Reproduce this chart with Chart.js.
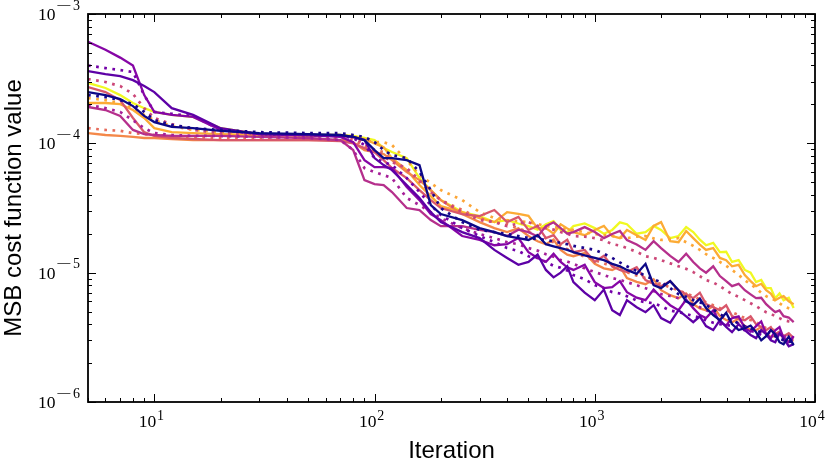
<!DOCTYPE html>
<html><head><meta charset="utf-8">
<script src="https://cdn.jsdelivr.net/npm/chart.js@4/dist/chart.umd.min.js"></script>
<style>html,body{margin:0;padding:0;background:#fff;}#wrap{width:830px;height:461px;position:relative;}</style>
</head><body><div id="wrap"><canvas id="c" width="830" height="461"></canvas></div>
<script>
// ---- data ----
const iterations = [5,6,7,8,9,10,12,15,20,30,50,70,80,90,100,110,120,140,160,180,200,250,300,350,400,450,500,550,600,650,700,750,800,900,1000,1100,1200,1300,1400,1550,1700,1850,2000,2200,2400,2600,2800,3000,3200,3450,3700,3950,4200,4500,4800,5100,5400,5700,6000,6300,6600,6900,7200,7600,8000];

const runPurpleA = [6.1e-4,5.3e-4,4.6e-4,4.0e-4,2.36e-4,1.75e-4,1.66e-4,1.60e-4,1.27e-4,1.18e-4,1.16e-4,1.12e-4,1.02e-4,7.42e-5,6.55e-5,6.55e-5,6.44e-5,4.59e-5,3.64e-5,2.84e-5,2.55e-5,1.92e-5,1.79e-5,1.63e-5,
  1.66e-5,1.85e-5,1.44e-5,1.30e-5,1.21e-5,1.40e-5,1.21e-5,1.10e-5,1.05e-5,1.15e-5,8.45e-6,7.6e-6,7.72e-6,8.6e-6,7.07e-6,6.4e-6,6.13e-6,7.4e-6,6.46e-6,5.6e-6,5.13e-6,6.2e-6,5.32e-6,4.7e-6,4.45e-6,5.1e-6,4.14e-6,3.9e-6,4.45e-6,4.6e-6,3.72e-6,3.5e-6,3.86e-6,4.2e-6,3.35e-6,3.1e-6,3.59e-6,3.8e-6,3.12e-6,2.9e-6,3.23e-6];
const runPurpleB = [3.62e-4,3.43e-4,3.31e-4,3.08e-4,2.77e-4,2.49e-4,1.87e-4,1.66e-4,1.31e-4,1.18e-4,1.16e-4,1.14e-4,1.12e-4,1.06e-4,7.69e-5,6.79e-5,6.21e-5,4.76e-5,3.78e-5,2.94e-5,2.46e-5,2.06e-5,1.85e-5,1.50e-5,
  1.30e-5,1.15e-5,1.21e-5,1.38e-5,1.05e-5,9.2e-6,1.0e-5,1.12e-5,8.45e-6,7.0e-6,6.13e-6,7.4e-6,5.13e-6,4.7e-6,6.13e-6,5.4e-6,4.95e-6,5.6e-6,4.45e-6,4.1e-6,5.13e-6,4.6e-6,4.14e-6,4.6e-6,3.86e-6,3.6e-6,4.29e-6,3.8e-6,3.47e-6,4.0e-6,3.59e-6,3.3e-6,3.12e-6,3.6e-6,3.35e-6,3.0e-6,2.90e-6,3.4e-6,3.12e-6,2.7e-6,2.80e-6];
const runPurpleDotted = [4.0e-4,3.82e-4,3.69e-4,3.56e-4,2.36e-4,1.75e-4,1.69e-4,1.63e-4,1.27e-4,1.18e-4,1.16e-4,1.14e-4,1.10e-4,9.70e-5,7.69e-5,7.16e-5,6.79e-5,5.39e-5,4.20e-5,3.33e-5,2.79e-5,2.21e-5,1.92e-5,1.72e-5,
  1.55e-5,1.47e-5,1.34e-5,1.30e-5,1.21e-5,1.13e-5,1.09e-5,1.04e-5,9.58e-6,8.9e-6,8.01e-6,7.6e-6,7.07e-6,6.9e-6,6.58e-6,6.1e-6,5.91e-6,5.8e-6,5.51e-6,5.1e-6,4.95e-6,4.8e-6,4.61e-6,4.5e-6,4.29e-6,4.1e-6,4.00e-6,3.95e-6,3.86e-6,3.7e-6,3.59e-6,3.55e-6,3.47e-6,3.3e-6,3.23e-6,3.25e-6,3.23e-6,3.1e-6,3.01e-6,3.05e-6,3.01e-6];
const runYellow = [2.93e-4,2.68e-4,2.36e-4,2.05e-4,1.87e-4,1.75e-4,1.66e-4,1.60e-4,1.31e-4,1.18e-4,1.16e-4,1.16e-4,1.14e-4,1.10e-4,1.06e-4,9.18e-5,8.56e-5,7.69e-5,5.39e-5,4.35e-5,3.64e-5,2.94e-5,2.74e-5,2.46e-5,
  2.55e-5,2.40e-5,2.29e-5,2.15e-5,2.37e-5,2.50e-5,2.14e-5,2.05e-5,2.29e-5,2.40e-5,2.21e-5,2.0e-5,2.14e-5,2.45e-5,2.37e-5,2.0e-5,2.06e-5,2.30e-5,2.14e-5,1.85e-5,1.92e-5,2.25e-5,2.06e-5,1.80e-5,1.63e-5,1.70e-5,1.44e-5,1.45e-5,1.21e-5,1.25e-5,1.05e-5,1.0e-5,8.45e-6,8.8e-6,7.59e-6,7.6e-6,6.35e-6,6.9e-6,6.13e-6,6.4e-6,5.32e-6];
const runPinkDotted = [3.14e-4,2.98e-4,2.77e-4,2.41e-4,1.87e-4,1.57e-4,1.41e-4,1.27e-4,1.20e-4,1.16e-4,1.14e-4,1.12e-4,1.10e-4,1.00e-4,8.87e-5,7.97e-5,7.16e-5,6.44e-5,5.20e-5,4.20e-5,3.64e-5,2.94e-5,2.55e-5,2.46e-5,
  2.29e-5,2.40e-5,2.46e-5,2.30e-5,2.21e-5,2.15e-5,2.06e-5,2.0e-5,1.92e-5,1.90e-5,1.85e-5,1.78e-5,1.66e-5,1.62e-5,1.55e-5,1.45e-5,1.34e-5,1.30e-5,1.25e-5,1.18e-5,1.12e-5,1.07e-5,1.01e-5,9.4e-6,8.76e-6,8.4e-6,7.86e-6,7.3e-6,6.82e-6,6.5e-6,6.13e-6,5.8e-6,5.51e-6,5.2e-6,4.95e-6,4.8e-6,4.61e-6,4.45e-6,4.29e-6,4.2e-6,4.14e-6];
const runSalmon = [2.72e-4,2.49e-4,2.16e-4,1.57e-4,1.22e-4,1.14e-4,1.10e-4,1.08e-4,1.06e-4,1.06e-4,1.06e-4,1.04e-4,1.0e-4,9.18e-5,8.56e-5,7.42e-5,6.44e-5,5.39e-5,4.35e-5,3.64e-5,3.16e-5,2.84e-5,2.74e-5,3.05e-5,
  2.46e-5,2.7e-5,2.14e-5,2.3e-5,1.85e-5,1.95e-5,1.66e-5,1.80e-5,1.44e-5,1.50e-5,1.21e-5,1.35e-5,1.12e-5,1.05e-5,1.01e-5,1.10e-5,8.76e-6,8.2e-6,7.86e-6,8.6e-6,7.32e-6,6.8e-6,6.35e-6,7.0e-6,5.71e-6,5.4e-6,5.13e-6,5.6e-6,4.61e-6,4.4e-6,4.29e-6,4.6e-6,4.00e-6,3.8e-6,3.59e-6,3.8e-6,3.35e-6,3.5e-6,3.23e-6,3.4e-6,3.12e-6];
const runNavy = [2.49e-4,2.36e-4,2.20e-4,1.94e-4,1.63e-4,1.46e-4,1.34e-4,1.31e-4,1.25e-4,1.20e-4,1.18e-4,1.16e-4,1.12e-4,1.06e-4,8.87e-5,7.69e-5,7.69e-5,7.42e-5,6.79e-5,3.33e-5,2.84e-5,2.55e-5,2.21e-5,2.06e-5,
  1.92e-5,1.85e-5,1.79e-5,1.95e-5,1.66e-5,1.60e-5,1.55e-5,1.50e-5,1.44e-5,1.36e-5,1.30e-5,1.25e-5,1.17e-5,1.12e-5,1.05e-5,9.8e-6,1.17e-5,8.0e-6,7.59e-6,8.6e-6,7.32e-6,6.0e-6,5.61e-6,6.3e-6,5.32e-6,4.7e-6,4.29e-6,4.9e-6,4.00e-6,3.6e-6,3.72e-6,3.9e-6,3.47e-6,3.0e-6,3.23e-6,3.6e-6,3.35e-6,2.9e-6,2.80e-6,3.2e-6,2.75e-6];
const runNavyDotted = [2.36e-4,2.28e-4,2.16e-4,2.01e-4,1.75e-4,1.51e-4,1.39e-4,1.31e-4,1.27e-4,1.22e-4,1.20e-4,1.20e-4,1.16e-4,1.12e-4,1.02e-4,8.87e-5,8.11e-5,7.69e-5,6.00e-5,4.35e-5,3.16e-5,2.46e-5,2.14e-5,2.06e-5,
  1.99e-5,1.92e-5,1.85e-5,1.82e-5,1.79e-5,1.74e-5,1.70e-5,1.66e-5,1.61e-5,1.55e-5,1.50e-5,1.40e-5,1.30e-5,1.20e-5,1.12e-5,1.03e-5,9.41e-6,8.9e-6,8.45e-6,7.6e-6,6.82e-6,6.5e-6,6.13e-6,5.9e-6,5.61e-6,5.2e-6,4.78e-6,4.5e-6,4.29e-6,4.05e-6,3.86e-6,3.7e-6,3.59e-6,3.45e-6,3.35e-6,3.3e-6,3.23e-6,3.1e-6,3.01e-6,2.95e-6,2.90e-6];
const runOrangeDotted = [2.24e-4,2.16e-4,2.05e-4,1.87e-4,1.66e-4,1.51e-4,1.36e-4,1.27e-4,1.22e-4,1.18e-4,1.16e-4,1.16e-4,1.12e-4,1.06e-4,1.02e-4,1.02e-4,9.70e-5,7.42e-5,5.68e-5,4.93e-5,4.35e-5,3.64e-5,2.94e-5,2.64e-5,
  2.55e-5,2.50e-5,2.46e-5,2.38e-5,2.29e-5,2.25e-5,2.21e-5,2.17e-5,2.14e-5,2.05e-5,1.99e-5,1.95e-5,1.92e-5,1.88e-5,1.85e-5,1.90e-5,1.92e-5,1.84e-5,1.79e-5,1.82e-5,1.85e-5,1.72e-5,1.61e-5,1.50e-5,1.39e-5,1.30e-5,1.21e-5,1.13e-5,1.05e-5,9.6e-6,8.76e-6,8.1e-6,7.59e-6,7.0e-6,6.58e-6,6.3e-6,6.13e-6,5.8e-6,5.51e-6,5.3e-6,5.13e-6];
const runOrange = [2.05e-4,2.05e-4,2.01e-4,1.81e-4,1.57e-4,1.31e-4,1.22e-4,1.20e-4,1.18e-4,1.16e-4,1.14e-4,1.14e-4,1.12e-4,1.08e-4,1.0e-4,9.35e-5,7.69e-5,6.21e-5,4.76e-5,3.91e-5,3.27e-5,2.94e-5,2.64e-5,2.46e-5,
  2.94e-5,2.85e-5,2.75e-5,2.2e-5,2.21e-5,2.0e-5,2.37e-5,2.2e-5,2.06e-5,1.95e-5,2.14e-5,2.3e-5,1.92e-5,1.85e-5,2.14e-5,1.95e-5,1.79e-5,2.3e-5,2.46e-5,1.75e-5,1.72e-5,2.1e-5,1.85e-5,1.65e-5,1.50e-5,1.55e-5,1.30e-5,1.25e-5,1.12e-5,1.15e-5,9.58e-6,8.6e-6,7.86e-6,8.2e-6,7.32e-6,6.9e-6,6.13e-6,6.4e-6,6.58e-6,6.0e-6,5.71e-6];
const runMagenta = [1.91e-4,1.81e-4,1.63e-4,1.27e-4,1.18e-4,1.16e-4,1.14e-4,1.14e-4,1.14e-4,1.12e-4,1.10e-4,1.06e-4,8.87e-5,5.20e-5,4.84e-5,4.76e-5,4.20e-5,3.16e-5,3.05e-5,2.55e-5,2.29e-5,2.29e-5,2.14e-5,2.06e-5,
  1.92e-5,2.15e-5,2.06e-5,1.90e-5,2.29e-5,2.45e-5,2.21e-5,2.0e-5,2.06e-5,2.25e-5,2.06e-5,1.85e-5,1.99e-5,2.1e-5,1.79e-5,1.65e-5,1.50e-5,1.75e-5,1.55e-5,1.35e-5,1.21e-5,1.40e-5,1.21e-5,1.08e-5,1.0e-5,1.12e-5,9.41e-6,8.6e-6,7.86e-6,8.2e-6,7.32e-6,6.8e-6,6.35e-6,6.4e-6,5.71e-6,5.3e-6,4.95e-6,5.1e-6,4.61e-6,4.5e-6,4.14e-6];
const runMagentaDotted = [1.98e-4,1.87e-4,1.75e-4,1.51e-4,1.31e-4,1.20e-4,1.16e-4,1.14e-4,1.14e-4,1.12e-4,1.10e-4,1.06e-4,8.87e-5,6.44e-5,6.00e-5,5.68e-5,5.39e-5,3.78e-5,3.33e-5,2.94e-5,2.64e-5,2.21e-5,1.99e-5,1.85e-5,
  1.72e-5,1.66e-5,1.55e-5,1.48e-5,1.39e-5,1.33e-5,1.25e-5,1.22e-5,1.17e-5,1.08e-5,1.01e-5,9.6e-6,9.08e-6,8.8e-6,8.45e-6,8.0e-6,7.59e-6,7.2e-6,6.82e-6,6.6e-6,6.35e-6,6.0e-6,5.71e-6,5.4e-6,5.13e-6,4.85e-6,4.61e-6,4.45e-6,4.29e-6,4.05e-6,3.86e-6,3.7e-6,3.59e-6,3.52e-6,3.47e-6,3.4e-6,3.35e-6,3.3e-6,3.23e-6,3.18e-6,3.12e-6];
const runSalmonDotted = [1.31e-4,1.27e-4,1.25e-4,1.20e-4,1.18e-4,1.16e-4,1.14e-4,1.12e-4,1.10e-4,1.10e-4,1.08e-4,1.08e-4,1.06e-4,9.52e-5,8.87e-5,8.56e-5,7.42e-5,6.21e-5,5.02e-5,4.20e-5,3.64e-5,3.05e-5,2.64e-5,2.46e-5,
  2.37e-5,2.2e-5,2.06e-5,1.95e-5,1.85e-5,1.72e-5,1.61e-5,1.52e-5,1.44e-5,1.33e-5,1.25e-5,1.18e-5,1.12e-5,1.06e-5,1.01e-5,9.5e-6,9.08e-6,8.6e-6,8.15e-6,7.7e-6,7.32e-6,6.9e-6,6.58e-6,6.2e-6,5.91e-6,5.6e-6,5.32e-6,5.1e-6,4.95e-6,4.7e-6,4.45e-6,4.3e-6,4.14e-6,3.9e-6,3.72e-6,3.65e-6,3.59e-6,3.45e-6,3.35e-6,3.3e-6,3.23e-6];
const runLightOrange = [1.20e-4,1.16e-4,1.14e-4,1.12e-4,1.10e-4,1.10e-4,1.08e-4,1.06e-4,1.06e-4,1.06e-4,1.06e-4,1.06e-4,1.02e-4,8.87e-5,8.56e-5,8.26e-5,7.42e-5,6.00e-5,5.20e-5,4.35e-5,3.64e-5,2.84e-5,2.46e-5,2.21e-5,
  2.06e-5,2.2e-5,1.92e-5,1.75e-5,1.66e-5,1.80e-5,1.50e-5,1.38e-5,1.34e-5,1.42e-5,1.17e-5,1.08e-5,1.05e-5,1.12e-5,9.08e-6,8.5e-6,8.15e-6,8.9e-6,7.32e-6,6.7e-6,6.35e-6,6.9e-6,5.71e-6,5.3e-6,5.13e-6,5.5e-6,4.61e-6,4.3e-6,4.14e-6,4.4e-6,3.86e-6,3.6e-6,3.59e-6,3.8e-6,3.35e-6,3.2e-6,3.23e-6,3.4e-6,3.12e-6,2.95e-6,3.01e-6];

const xMajorTicks = [10, 100, 1000, 10000];
const xTickExponents = ['1', '2', '3', '4'];
const yMajorTicks = [1e-6, 1e-5, 1e-4, 1e-3];
const yTickExponents = ['\u22126', '\u22125', '\u22124', '\u22123'];
const xAxisTitle = 'Iteration';
const yAxisTitle = 'MSB cost function value';

// ---- styles (kept apart from data) ----
const seriesStyles = [
  { values: runNavy,          color: '#0d0887', dotted: false },
  { values: runNavyDotted,    color: '#1b068d', dotted: true },
  { values: runPurpleB,       color: '#5d01a6', dotted: false },
  { values: runPurpleA,       color: '#8606a6', dotted: false },
  { values: runPurpleDotted,  color: '#7301a8', dotted: true },
  { values: runMagentaDotted, color: '#a62098', dotted: true },
  { values: runMagenta,       color: '#b52f8c', dotted: false },
  { values: runPinkDotted,    color: '#cc4778', dotted: true },
  { values: runSalmon,        color: '#d8576b', dotted: false },
  { values: runSalmonDotted,  color: '#e66c5c', dotted: true },
  { values: runLightOrange,   color: '#f48849', dotted: false },
  { values: runOrangeDotted,  color: '#fca636', dotted: true },
  { values: runOrange,        color: '#fcab35', dotted: false },
  { values: runYellow,        color: '#f0f921', dotted: false }
];

const datasets = seriesStyles.map(s => ({
  data: iterations.map((it, i) => ({ x: it, y: s.values[i] })),
  borderColor: s.color,
  backgroundColor: s.color,
  borderWidth: s.dotted ? 2.7 : 2.3,
  borderDash: s.dotted ? [2.7, 5.5] : [],
  pointRadius: 0,
  tension: 0,
  fill: false
}));

function logTicks(min, max) {
  return function (scale) {
    const out = [];
    const lo = Math.floor(Math.log10(min)), hi = Math.ceil(Math.log10(max));
    for (let e = lo; e <= hi; e++) {
      for (let k = 1; k <= 9; k++) {
        const v = k * Math.pow(10, e);
        if (v >= min * 0.999 && v <= max * 1.001) out.push({ value: v, major: k === 1 });
      }
    }
    scale.ticks = out;
  };
}

const SERIF = '"Liberation Serif", "DejaVu Serif", serif';
const SANS = '"Liberation Sans", Arial, Helvetica, sans-serif';
const BASE_FONT = '17.5px ' + SERIF;
const EXP_FONT = '14px ' + SERIF;

function drawPower(ctx, exp, x, baseY, expY, align) {
  ctx.font = BASE_FONT;
  const w10 = ctx.measureText('10').width;
  ctx.font = EXP_FONT;
  let minusW = 0, rest = exp;
  const minusScale = 2.0;
  if (exp[0] === '\u2212') { minusW = ctx.measureText('\u2212').width * minusScale + 1; rest = exp.slice(1); }
  const restW = ctx.measureText(rest).width;
  const total = w10 + 0.8 + minusW + restW;
  const x0 = align === 'right' ? x - total : x - total / 2;
  ctx.textAlign = 'left';
  ctx.textBaseline = 'alphabetic';
  ctx.font = BASE_FONT;
  ctx.fillText('10', x0, baseY);
  let xe = x0 + w10 + 0.8;
  ctx.font = EXP_FONT;
  if (minusW) {
    ctx.save();
    ctx.translate(xe, expY);
    ctx.scale(minusScale, 1);
    ctx.fillText('\u2212', 0, 0);
    ctx.restore();
    xe += minusW;
  }
  ctx.fillText(rest, xe, expY);
}

const frameAndLabels = {
  id: 'frameAndLabels',
  afterDraw(chart) {
    const { ctx, chartArea: a } = chart;
    const xs = chart.scales.x, ys = chart.scales.y;
    ctx.save();
    ctx.strokeStyle = '#000';
    ctx.fillStyle = '#000';
    ctx.lineWidth = 1;
    ctx.beginPath();
    xs.ticks.forEach(t => {
      const px = Math.round(xs.getPixelForValue(t.value)) + 0.5;
      const len = t.major ? 8 : 4;
      ctx.moveTo(px, a.bottom); ctx.lineTo(px, a.bottom - len);
      ctx.moveTo(px, a.top); ctx.lineTo(px, a.top + len);
    });
    ys.ticks.forEach(t => {
      const py = Math.round(ys.getPixelForValue(t.value)) + 0.5;
      const len = t.major ? 8 : 4;
      ctx.moveTo(a.left, py); ctx.lineTo(a.left + len, py);
      ctx.moveTo(a.right, py); ctx.lineTo(a.right - len, py);
    });
    ctx.stroke();
    ctx.lineWidth = 1.8;
    ctx.strokeRect(a.left, a.top, a.right - a.left, a.bottom - a.top);

    xMajorTicks.forEach((v, i) => {
      const px = xs.getPixelForValue(v);
      drawPower(ctx, xTickExponents[i], px - 3, a.bottom + 24.5, a.bottom + 18, 'center');
    });
    yMajorTicks.forEach((v, i) => {
      const py = ys.getPixelForValue(v);
      drawPower(ctx, yTickExponents[i], a.left - 8, py + 6, py - 4.5, 'right');
    });

    ctx.font = '24px ' + SANS;
    ctx.textAlign = 'center';
    ctx.textBaseline = 'alphabetic';
    ctx.fillText(xAxisTitle, (a.left + a.right) / 2, 458);
    ctx.save();
    ctx.translate(21, (a.top + a.bottom) / 2);
    ctx.rotate(-Math.PI / 2);
    ctx.fillText(yAxisTitle, 0, 0);
    ctx.restore();
    ctx.restore();
  }
};

new Chart(document.getElementById('c'), {
  type: 'line',
  data: { datasets },
  options: {
    responsive: false,
    animation: false,
    events: [],
    layout: { padding: { top: 14, right: 15, left: 0, bottom: 0 } },
    plugins: { legend: { display: false }, tooltip: { enabled: false } },
    scales: {
      x: {
        type: 'logarithmic', min: 5, max: 10000, position: 'bottom',
        afterBuildTicks: logTicks(5, 10000),
        afterFit: s => { s.height = 59; },
        grid: { drawOnChartArea: false, drawTicks: false },
        border: { display: false },
        ticks: { display: false, autoSkip: false }
      },
      y: {
        type: 'logarithmic', min: 1e-6, max: 1e-3, position: 'left',
        afterBuildTicks: logTicks(1e-6, 1e-3),
        afterFit: s => { s.width = 88; },
        grid: { drawOnChartArea: false, drawTicks: false },
        border: { display: false },
        ticks: { display: false, autoSkip: false }
      }
    }
  },
  plugins: [frameAndLabels]
});
</script>
</body></html>
